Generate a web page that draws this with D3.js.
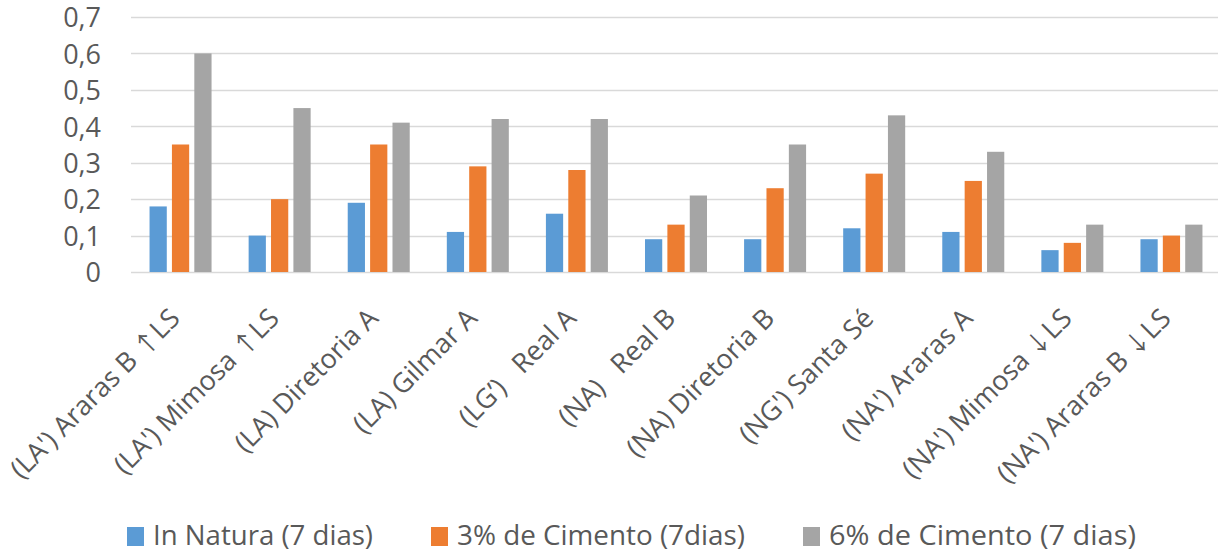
<!DOCTYPE html>
<html>
<head>
<meta charset="utf-8">
<script src="https://cdn.jsdelivr.net/npm/d3@7"></script>
<style>
  html, body { margin: 0; padding: 0; background: #fff; }
  svg { display: block; }
  text { font-family: "Open Sans", "Noto Sans", sans-serif; fill: #595959; }
</style>
</head>
<body>
<svg id="chart" width="1218" height="553"></svg>
<script>
// Amostras de solo (eixo X)
const categories = [
  "(LA') Araras B \u2191LS",
  "(LA') Mimosa \u2191LS",
  "(LA) Diretoria A",
  "(LA) Gilmar A",
  "(LG\u2019)   Real A",
  "(NA)   Real B",
  "(NA) Diretoria B",
  "(NG') Santa S\u00e9",
  "(NA') Araras A",
  "(NA') Mimosa \u2193LS",
  "(NA') Araras B \u2193LS"
];

const seriesNames = ["In Natura (7 dias)", "3% de Cimento (7dias)", "6% de Cimento (7 dias)"];
const inNatura   = [0.18, 0.10, 0.19, 0.11, 0.16, 0.09, 0.09, 0.12, 0.11, 0.06, 0.09];
const cimento3   = [0.35, 0.20, 0.35, 0.29, 0.28, 0.13, 0.23, 0.27, 0.25, 0.08, 0.10];
const cimento6   = [0.60, 0.45, 0.41, 0.42, 0.42, 0.21, 0.35, 0.43, 0.33, 0.13, 0.13];
const yTicks     = [0, 0.1, 0.2, 0.3, 0.4, 0.5, 0.6, 0.7];

const colors = ["#5B9BD5", "#ED7D31", "#A5A5A5"];
const seriesValues = [inNatura, cimento3, cimento6];

const svg = d3.select("#chart");
const plot = { left: 131, right: 1221, top: 17, bottom: 272 };

const x = d3.scaleBand().domain(categories).range([plot.left, plot.right]).paddingInner(0).paddingOuter(0);
const y = d3.scaleLinear().domain([0, 0.7]).range([plot.bottom, plot.top]);
const xs = d3.scaleBand().domain(d3.range(3)).range([x.bandwidth() / 2 - 31, x.bandwidth() / 2 + 31]).paddingInner(0.23).paddingOuter(0);

// Linhas de grade horizontais
svg.append("g")
  .selectAll("line")
  .data(yTicks)
  .join("line")
  .attr("x1", plot.left)
  .attr("x2", 1218)
  .attr("y1", d => Math.round(y(d)) + 0.5)
  .attr("y2", d => Math.round(y(d)) + 0.5)
  .attr("stroke", "#D9D9D9")
  .attr("stroke-width", 1.5);

// Eixo Y (rótulos com vírgula decimal)
const yAxis = d3.axisLeft(y)
  .tickValues(yTicks)
  .tickSize(0)
  .tickPadding(0)
  .tickFormat(d => d === 0 ? "0" : d3.format(".1f")(d).replace(".", ","));

const yg = svg.append("g").attr("transform", "translate(101,0)").call(yAxis);
yg.select(".domain").remove();
yg.selectAll("text")
  .attr("font-size", 27)
  .attr("font-family", "\"Open Sans\", sans-serif")
  .attr("fill", "#595959")
  .attr("dy", "0.36em");

// Barras agrupadas
const groups = svg.append("g")
  .selectAll("g")
  .data(categories)
  .join("g")
  .attr("transform", d => `translate(${x(d)},0)`);

groups.selectAll("rect")
  .data((d, i) => seriesValues.map((vals, s) => ({ s, v: vals[i] })))
  .join("rect")
  .attr("x", d => xs(d.s))
  .attr("width", xs.bandwidth())
  .attr("y", d => y(d.v))
  .attr("height", d => y(0) - y(d.v))
  .attr("fill", d => colors[d.s]);

// Eixo X com rótulos inclinados (setas em fonte de largura cheia)
const xAxis = d3.axisBottom(x).tickSize(0).tickPadding(0);
const xg = svg.append("g").attr("transform", `translate(0,${plot.bottom})`).call(xAxis);
xg.select(".domain").remove();
xg.selectAll("text")
  .attr("font-size", 27)
  .attr("font-family", "\"Open Sans\", sans-serif")
  .attr("fill", "#595959")
  .attr("text-anchor", "end")
  .attr("dy", null)
  .attr("y", 0)
  .attr("transform", "translate(1,48) rotate(-45)")
  .attr("xml:space", "preserve")
  .style("white-space", "pre")
  .each(function(d) {
    const t = d3.select(this).text("");
    d.split(/([\u2191\u2193])/).filter(s => s.length).forEach(part => {
      const isArrow = /[\u2191\u2193]/.test(part);
      t.append("tspan")
        .attr("font-family", isArrow ? "\"Noto Sans CJK JP\", \"DejaVu Sans\", sans-serif" : null)
        .attr("font-size", isArrow ? 24 : null)
        .text(part);
    });
  });

// Legenda
const legendX = [127, 431, 803];
const legendW = [220, 288, 307];
const legend = svg.append("g")
  .selectAll("g")
  .data(seriesNames)
  .join("g")
  .attr("transform", (d, i) => `translate(${legendX[i]},0)`);

legend.append("rect")
  .attr("x", 0).attr("y", 527)
  .attr("width", 17).attr("height", 19)
  .attr("fill", (d, i) => colors[i]);

legend.append("text")
  .attr("x", 26).attr("y", 545)
  .attr("font-size", 28)
  .attr("textLength", (d, i) => legendW[i])
  .attr("lengthAdjust", "spacingAndGlyphs")
  .text(d => d);
</script>
</body>
</html>
